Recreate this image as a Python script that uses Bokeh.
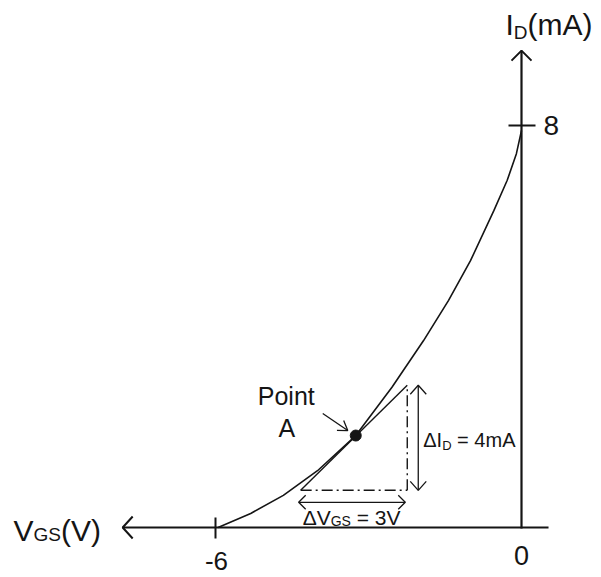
import math

from bokeh.plotting import figure
from bokeh.models import ColumnDataSource, Range1d
from bokeh.core.properties import value
from bokeh.embed import file_html
from bokeh.resources import INLINE

# JFET transfer characteristic, I_D (mA) against V_GS (V)
vgs = [-5.95, -5.31, -4.67, -4.00, -3.25, -2.54, -1.92, -1.43, -1.00, -0.54, -0.28, -0.10, 0.0]
i_d = [0.00, 0.28, 0.64, 1.13, 1.83, 2.79, 3.72, 4.52, 5.31, 6.31, 6.91, 7.44, 7.90]

# operating point A and the tangent drawn through it
point_a = (-3.25, 1.83)
tangent_v = [-4.33, -2.24]
tangent_i = [0.74, 2.83]

# axis ticks
x_ticks = [-6, 0]
x_tick_labels = ["-6", "0"]
y_ticks = [8]
y_tick_labels = ["8"]

W, H = 601, 577
X0, Y0 = 521.0, 527.0          # screen position of the origin
SX, SY = 51.0, 50.25           # pixels per volt / per mA

x_range = Range1d(-X0 / SX, (W - X0) / SX)
y_range = Range1d(-(H - Y0) / SY, Y0 / SY)

p = figure(width=W, height=H, x_range=x_range, y_range=y_range,
           min_border=0, x_axis_location=None, y_axis_location=None,
           toolbar_location=None, output_backend="svg")
p.outline_line_color = None
p.grid.visible = False
p.background_fill_color = "white"
p.border_fill_color = "white"

INK = "#151515"
FONT = value("Liberation Sans")


def dx(px):
    return px / SX


def dy(px):
    return px / SY


def head(tip, direction, back, half):
    """Open arrow head at tip; direction is a screen unit vector (x right, y up)."""
    ux, uy = direction
    px_, py_ = -uy, ux
    bx, by = tip[0] - dx(back * ux), tip[1] - dy(back * uy)
    a1 = (bx + dx(half * px_), by + dy(half * py_))
    a2 = (bx - dx(half * px_), by - dy(half * py_))
    return [a1[0], tip[0], a2[0]], [a1[1], tip[1], a2[1]]


# axes
x_axis_end = [-7.82, 0.53]
y_axis_end = [-0.02, 9.49]
p.line(x_axis_end, [0, 0], line_color=INK, line_width=2.2)
p.line([0, 0], y_axis_end, line_color=INK, line_width=2.2)
hx, hy = head((x_axis_end[0], 0), (-1, 0), 10, 11)
p.line(hx, hy, line_color=INK, line_width=2.0)
hx, hy = head((0, y_axis_end[1]), (0, 1), 10, 10)
p.line(hx, hy, line_color=INK, line_width=2.0)

# tick marks
for t in x_ticks:
    if t != 0:
        p.line([t, t], [dy(10), -dy(11)], line_color=INK, line_width=2.0)
for t in y_ticks:
    p.line([-dx(13), dx(14)], [t, t], line_color=INK, line_width=2.0)

# characteristic curve
p.line(vgs, i_d, line_color=INK, line_width=1.6)

# tangent and the dash-dot triangle
p.line(tangent_v, tangent_i, line_color=INK, line_width=1.4)
p.line(tangent_v, [tangent_i[0], tangent_i[0]], line_color=INK, line_width=1.4,
       line_dash="11 4 2 4")
p.line([tangent_v[1], tangent_v[1]], tangent_i, line_color=INK, line_width=1.4,
       line_dash="11 4 2 4")

# delta I_D dimension arrow
di_x = tangent_v[1] + dx(11)
p.line([di_x, di_x], tangent_i, line_color=INK, line_width=1.3)
for tip, d in (((di_x, tangent_i[1]), (0, 1)), ((di_x, tangent_i[0]), (0, -1))):
    hx, hy = head(tip, d, 9, 8)
    p.line(hx, hy, line_color=INK, line_width=1.3)

# delta V_GS dimension arrow
dv_y = tangent_i[0] - dy(12)
dv_x = [tangent_v[0] - dx(2), tangent_v[1] - dx(2)]
p.line(dv_x, [dv_y, dv_y], line_color=INK, line_width=1.3)
for tip, d in (((dv_x[0], dv_y), (-1, 0)), ((dv_x[1], dv_y), (1, 0))):
    hx, hy = head(tip, d, 7, 7)
    p.line(hx, hy, line_color=INK, line_width=1.3)

# point A with its pointer arrow
p.scatter([point_a[0]], [point_a[1]], size=11, color=INK)
ptr_tail = (point_a[0] - dx(33), point_a[1] + dy(22))
ptr_tip = (point_a[0] - dx(8), point_a[1] + dy(5))
p.line([ptr_tail[0], ptr_tip[0]], [ptr_tail[1], ptr_tip[1]], line_color=INK, line_width=1.3)
ux, uy = 25, -17
n = math.hypot(ux, uy)
hx, hy = head(ptr_tip, (ux / n, uy / n), 9, 6)
p.line(hx, hy, line_color=INK, line_width=1.3)

# text, built from runs so that subscripts can be smaller
ADV = {' ': 278, '\u00a0': 278, '(': 333, ')': 333, '-': 333, '=': 584,
       '0': 556, '3': 556, '4': 556, '6': 556, '8': 556, 'A': 667, 'D': 722,
       'G': 778, 'I': 278, 'P': 667, 'S': 667, 'V': 667, 'i': 222, 'm': 833,
       'n': 556, 'o': 556, 't': 278, '\u0394': 668}
BASE_K = 0.37   # lifts each run so its baseline sits on the anchor

rows = dict(x=[], y=[], text=[], size=[], xo=[], yo=[])


def label(x, y, parts, align="left", off_x=0.0, off_y=0.0):
    """Place runs of (text, size, drop) side by side; offsets in screen px."""
    widths = [sum(ADV[c] for c in s) / 1000 * sz for s, sz, _ in parts]
    off = off_x if align == "left" else off_x - sum(widths) / 2
    for (s, sz, drop), w in zip(parts, widths):
        rows["x"].append(x)
        rows["y"].append(y)
        rows["text"].append(s)
        rows["size"].append(f"{sz}px")
        rows["xo"].append(off)
        rows["yo"].append(off_y + drop - BASE_K * sz)
        off += w


NB = "\u00a0"
label(-X0 / SX + dx(13), 0, [("V", 30, 0), ("GS", 19, 0), ("(V)", 30, 0)], off_y=14)
label(0, y_axis_end[1], [("I", 30, 0), ("D", 19, 4), ("(mA)", 30, 0)], off_x=-16, off_y=-15)
label(x_ticks[0], 0, [(x_tick_labels[0], 26, 0)], align="center", off_x=1, off_y=43)
label(x_ticks[1], 0, [(x_tick_labels[1], 27, 0)], align="center", off_y=38)
label(0, y_ticks[0], [(y_tick_labels[0], 28, 0)], off_x=22, off_y=10)
label(point_a[0], point_a[1], [("Point", 25, 0)], off_x=-98, off_y=-30)
label(point_a[0], point_a[1], [("A", 25, 0)], align="center", off_x=-69, off_y=2)
label(di_x, tangent_i[0], [("\u0394I", 20, 0), ("D", 13, 3), (NB + "=" + NB + "4mA", 20, 0)],
      off_x=5, off_y=-43)
label(dv_x[0], 0, [("\u0394V", 21, 0), ("GS", 14, 1), (NB + "=" + NB + "3V", 21, 0)],
      off_x=4, off_y=-2)

src = ColumnDataSource(rows)
p.text(x="x", y="y", text="text", x_offset="xo", y_offset="yo",
       text_font_size="size", source=src, text_font=FONT, text_color=INK,
       text_align="left", text_baseline="alphabetic")

open("out.html", "w").write(file_html(p, INLINE))
